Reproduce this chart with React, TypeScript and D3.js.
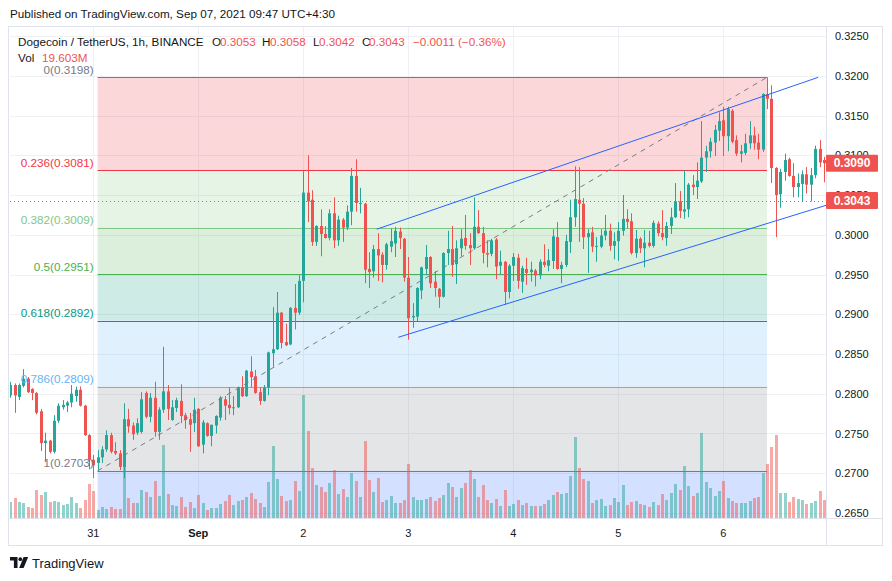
import * as d3 from "d3";

// hourly candles, Aug 30 05:00 -> Sep 6 23:00
const opens = [
  0.2798, 0.2811, 0.2796, 0.2810, 0.2819, 0.2806, 0.2801, 0.2778, 0.2738, 0.2741,
  0.2727, 0.2766, 0.2783, 0.2785, 0.2789, 0.2797, 0.2805, 0.2785, 0.2748, 0.2717,
  0.2713, 0.2720, 0.2730, 0.2748, 0.2728, 0.2725, 0.2708, 0.2768, 0.2760, 0.2751,
  0.2752, 0.2801, 0.2771, 0.2795, 0.2752, 0.2780, 0.2803, 0.2767, 0.2782, 0.2791,
  0.2773, 0.2768, 0.2763, 0.2781, 0.2736, 0.2763, 0.2747, 0.2760, 0.2770, 0.2793,
  0.2786, 0.2782, 0.2783, 0.2808, 0.2797, 0.2828, 0.2822, 0.2802, 0.2791, 0.2808,
  0.2851, 0.2856, 0.2902, 0.2865, 0.2862, 0.2908, 0.2902, 0.2942, 0.3053, 0.3044,
  0.2991, 0.3011, 0.3001, 0.2996, 0.3027, 0.2993, 0.3019, 0.3009, 0.3029, 0.3074,
  0.3039, 0.3039, 0.2957, 0.2954, 0.2982, 0.2975, 0.2962, 0.2985, 0.2989, 0.3004,
  0.2995, 0.2946, 0.2896, 0.2897, 0.2930, 0.2957, 0.2972, 0.2941, 0.2932, 0.2922,
  0.2977, 0.2982, 0.2963, 0.2983, 0.2996, 0.2987, 0.2983, 0.3010, 0.3002, 0.2977,
  0.2976, 0.2994, 0.2961, 0.2966, 0.2928, 0.2961, 0.2971, 0.2941, 0.2957, 0.2953,
  0.2955, 0.2949, 0.2966, 0.2961, 0.2967, 0.2997, 0.2957, 0.2962, 0.2991, 0.3022,
  0.3044, 0.3039, 0.2997, 0.3003, 0.2985, 0.2985, 0.2999, 0.3005, 0.2986, 0.2992,
  0.3005, 0.3020, 0.3017, 0.2977, 0.2995, 0.2983, 0.2990, 0.2986, 0.3014, 0.3002,
  0.2996, 0.3011, 0.3022, 0.3042, 0.3029, 0.3032, 0.3063, 0.3060, 0.3067, 0.3097,
  0.3105, 0.3116, 0.3131, 0.3144, 0.3124, 0.3156, 0.3119, 0.3102, 0.3103, 0.3115,
  0.3125, 0.3116, 0.3107, 0.3177, 0.3171, 0.3084, 0.3051, 0.3079, 0.3095, 0.3074,
  0.3060, 0.3064, 0.3076, 0.3063, 0.3075, 0.3108, 0.3094,
];
const highs = [
  0.2815, 0.2813, 0.2813, 0.2831, 0.2821, 0.2807, 0.2802, 0.2781, 0.2751, 0.2742,
  0.2773, 0.2788, 0.2792, 0.2791, 0.2811, 0.2809, 0.2809, 0.2786, 0.2749, 0.2723,
  0.2729, 0.2734, 0.2754, 0.2751, 0.2739, 0.2729, 0.2788, 0.2781, 0.2764, 0.2769,
  0.2802, 0.2803, 0.2801, 0.2815, 0.2783, 0.2859, 0.2811, 0.2792, 0.2795, 0.2812,
  0.2776, 0.2776, 0.2795, 0.2782, 0.2767, 0.2764, 0.2761, 0.2773, 0.2797, 0.2797,
  0.2808, 0.2797, 0.2809, 0.2822, 0.2830, 0.2847, 0.2830, 0.2808, 0.2811, 0.2853,
  0.2909, 0.2928, 0.2903, 0.2888, 0.2909, 0.2938, 0.2949, 0.3080, 0.3100, 0.3056,
  0.3012, 0.3032, 0.3011, 0.3032, 0.3047, 0.3024, 0.3021, 0.3037, 0.3084, 0.3095,
  0.3059, 0.3040, 0.2978, 0.2987, 0.3002, 0.2978, 0.2990, 0.3008, 0.3010, 0.3009,
  0.2996, 0.2972, 0.2914, 0.2934, 0.2960, 0.2987, 0.2973, 0.2954, 0.2933, 0.2978,
  0.3005, 0.3011, 0.2993, 0.3007, 0.3025, 0.3002, 0.3047, 0.3031, 0.3010, 0.2993,
  0.2995, 0.2996, 0.2980, 0.2967, 0.2963, 0.2977, 0.2976, 0.2961, 0.2971, 0.2966,
  0.2957, 0.2969, 0.2988, 0.2982, 0.3007, 0.3016, 0.2966, 0.3000, 0.3044, 0.3086,
  0.3085, 0.3046, 0.3007, 0.3010, 0.2997, 0.3007, 0.3025, 0.3014, 0.3003, 0.3016,
  0.3050, 0.3032, 0.3027, 0.3006, 0.2997, 0.3006, 0.3005, 0.3018, 0.3017, 0.3031,
  0.3016, 0.3034, 0.3065, 0.3055, 0.3081, 0.3065, 0.3075, 0.3091, 0.3143, 0.3112,
  0.3122, 0.3138, 0.3154, 0.3161, 0.3161, 0.3158, 0.3125, 0.3113, 0.3127, 0.3143,
  0.3136, 0.3127, 0.3178, 0.3198, 0.3188, 0.3085, 0.3083, 0.3102, 0.3097, 0.3090,
  0.3077, 0.3081, 0.3085, 0.3084, 0.3112, 0.3119, 0.3098,
];
const lows = [
  0.2795, 0.2776, 0.2792, 0.2808, 0.2801, 0.2792, 0.2774, 0.2728, 0.2714, 0.2725,
  0.2725, 0.2763, 0.2780, 0.2777, 0.2783, 0.2790, 0.2784, 0.2747, 0.2705, 0.2694,
  0.2704, 0.2713, 0.2727, 0.2725, 0.2723, 0.2704, 0.2694, 0.2751, 0.2742, 0.2748,
  0.2750, 0.2769, 0.2764, 0.2746, 0.2742, 0.2776, 0.2767, 0.2766, 0.2777, 0.2763,
  0.2756, 0.2727, 0.2752, 0.2733, 0.2725, 0.2746, 0.2734, 0.2750, 0.2766, 0.2767,
  0.2774, 0.2773, 0.2782, 0.2796, 0.2796, 0.2808, 0.2800, 0.2786, 0.2790, 0.2798,
  0.2834, 0.2855, 0.2857, 0.2860, 0.2861, 0.2881, 0.2899, 0.2915, 0.3016, 0.2986,
  0.2986, 0.2973, 0.2995, 0.2993, 0.2983, 0.2986, 0.2991, 0.3006, 0.3012, 0.3029,
  0.3027, 0.2939, 0.2933, 0.2946, 0.2942, 0.2940, 0.2956, 0.2978, 0.2972, 0.2982,
  0.2941, 0.2868, 0.2883, 0.2891, 0.2919, 0.2949, 0.2933, 0.2922, 0.2908, 0.2921,
  0.2962, 0.2947, 0.2938, 0.2973, 0.2981, 0.2962, 0.2981, 0.3001, 0.2964, 0.2959,
  0.2973, 0.2944, 0.2950, 0.2912, 0.2920, 0.2942, 0.2932, 0.2927, 0.2937, 0.2941,
  0.2935, 0.2944, 0.2959, 0.2954, 0.2957, 0.2956, 0.2939, 0.2959, 0.2977, 0.3010,
  0.2991, 0.2982, 0.2952, 0.2978, 0.2966, 0.2983, 0.2993, 0.2980, 0.2969, 0.2967,
  0.2999, 0.3008, 0.2975, 0.2971, 0.2977, 0.2959, 0.2984, 0.2984, 0.2998, 0.2993,
  0.2986, 0.3001, 0.3021, 0.3021, 0.3020, 0.3022, 0.3050, 0.3045, 0.3065, 0.3079,
  0.3097, 0.3099, 0.3118, 0.3099, 0.3105, 0.3115, 0.3099, 0.3091, 0.3100, 0.3108,
  0.3107, 0.3095, 0.3104, 0.3158, 0.3065, 0.2997, 0.3034, 0.3068, 0.3073, 0.3047,
  0.3047, 0.3042, 0.3052, 0.3042, 0.3071, 0.3085, 0.3066,
];
const closes = [
  0.2811, 0.2798, 0.2811, 0.2819, 0.2802, 0.2801, 0.2776, 0.2738, 0.2741, 0.2727,
  0.2766, 0.2785, 0.2786, 0.2789, 0.2800, 0.2805, 0.2785, 0.2748, 0.2717, 0.2710,
  0.2720, 0.2730, 0.2748, 0.2727, 0.2725, 0.2708, 0.2768, 0.2759, 0.2749, 0.2763,
  0.2793, 0.2771, 0.2795, 0.2752, 0.2780, 0.2803, 0.2781, 0.2783, 0.2792, 0.2772,
  0.2767, 0.2761, 0.2780, 0.2734, 0.2764, 0.2747, 0.2761, 0.2772, 0.2795, 0.2785,
  0.2782, 0.2783, 0.2808, 0.2797, 0.2829, 0.2821, 0.2801, 0.2791, 0.2808, 0.2852,
  0.2856, 0.2902, 0.2864, 0.2861, 0.2908, 0.2902, 0.2942, 0.3053, 0.3042, 0.2991,
  0.3011, 0.3001, 0.2996, 0.3027, 0.2993, 0.3019, 0.3009, 0.3029, 0.3074, 0.3040,
  0.3040, 0.2956, 0.2953, 0.2982, 0.2974, 0.2962, 0.2988, 0.2992, 0.3005, 0.2996,
  0.2946, 0.2895, 0.2898, 0.2933, 0.2959, 0.2972, 0.2939, 0.2933, 0.2922, 0.2977,
  0.2982, 0.2962, 0.2983, 0.2995, 0.2986, 0.2983, 0.3010, 0.3002, 0.2977, 0.2975,
  0.2993, 0.2960, 0.2966, 0.2928, 0.2961, 0.2972, 0.2942, 0.2958, 0.2952, 0.2956,
  0.2949, 0.2966, 0.2962, 0.2968, 0.2998, 0.2957, 0.2962, 0.2992, 0.3022, 0.3045,
  0.3039, 0.2997, 0.3002, 0.2985, 0.2986, 0.2999, 0.3005, 0.2986, 0.2992, 0.3005,
  0.3020, 0.3016, 0.2977, 0.2995, 0.2983, 0.2990, 0.2986, 0.3015, 0.3002, 0.2997,
  0.3011, 0.3022, 0.3042, 0.3030, 0.3032, 0.3063, 0.3060, 0.3068, 0.3097, 0.3105,
  0.3117, 0.3132, 0.3143, 0.3124, 0.3158, 0.3117, 0.3102, 0.3105, 0.3115, 0.3125,
  0.3115, 0.3107, 0.3177, 0.3171, 0.3084, 0.3050, 0.3079, 0.3094, 0.3074, 0.3060,
  0.3065, 0.3076, 0.3063, 0.3075, 0.3108, 0.3091, 0.3090,
];
// volume, millions
const volumes = [
  16, 20, 16, 15, 11, 10, 28, 23, 26, 16, 17, 16, 13, 14, 21, 15, 10, 18, 34, 27,
  8, 11, 9, 11, 9, 9, 73, 20, 15, 15, 28, 26, 21, 37, 22, 73, 24, 13, 12, 21,
  11, 16, 10, 23, 15, 8, 10, 10, 14, 17, 23, 13, 17, 18, 21, 25, 19, 15, 11, 36,
  72, 39, 22, 17, 18, 37, 27, 123, 87, 50, 33, 31, 26, 35, 48, 24, 29, 21, 45, 37,
  21, 77, 38, 26, 40, 16, 18, 22, 15, 15, 18, 54, 21, 18, 18, 19, 21, 17, 20, 23,
  35, 31, 21, 30, 35, 48, 39, 21, 33, 18, 15, 19, 12, 28, 12, 14, 18, 13, 15, 12,
  12, 12, 14, 18, 23, 26, 24, 25, 42, 81, 50, 39, 37, 15, 18, 19, 12, 13, 20, 16,
  33, 13, 16, 17, 14, 13, 11, 16, 13, 24, 18, 25, 34, 28, 52, 32, 22, 25, 85, 36,
  30, 22, 27, 37, 20, 17, 15, 15, 15, 17, 20, 21, 45, 54, 71, 83, 25, 25, 16, 21,
  19, 18, 14, 15, 17, 27, 18,
];

const priceTicks = [0.265, 0.27, 0.275, 0.28, 0.285, 0.29, 0.295, 0.3, 0.305, 0.31, 0.315, 0.32, 0.325];
const dayTicks = [
  { i: 19, label: "31", bold: false },
  { i: 43, label: "Sep", bold: true },
  { i: 67, label: "2", bold: false },
  { i: 91, label: "3", bold: false },
  { i: 115, label: "4", bold: false },
  { i: 139, label: "5", bold: false },
  { i: 163, label: "6", bold: false },
];

// fib retracement drawn from candle 20 (low) to candle 173 (high)
const fibAnchors = [
  { i: 20, p: 0.2703 },
  { i: 173, p: 0.3198 },
];
const fibLevels = [0, 0.236, 0.382, 0.5, 0.618, 0.786, 1];
const fibLineColors = ["#787b86", "#f23645", "#81c784", "#4caf50", "#089981", "#64b5f6", "#787b86"];
const fibFillColors = [
  "rgba(242,54,69,0.2)",
  "rgba(129,199,132,0.2)",
  "rgba(76,175,80,0.2)",
  "rgba(8,153,129,0.2)",
  "rgba(100,181,246,0.2)",
  "rgba(120,123,134,0.2)",
  "rgba(41,98,255,0.2)",
];

// hand drawn trend lines
const upperLine = [
  { i: 83.8, p: 0.3007 },
  { i: 184.7, p: 0.3198 },
];
const lowerLine = [
  { i: 88.7, p: 0.2871 },
  { i: 186.5, p: 0.3037 },
];

const lastPrice = 0.309;
const priceLine = 0.3043;

const UP = "#26a69a";
const DOWN = "#ef5350";
const FONT = "'Liberation Sans', Arial, sans-serif";
const TXT = "#131722";

export default function App() {
  const pane = { left: 10, right: 826, top: 26, bottom: 518 };

  const x = d3.scaleLinear().domain([0, 186]).range([10.125, 823.875]);
  const y = d3.scaleLinear().domain([0.265, 0.325]).range([513, 36]);
  const v = d3.scaleLinear().domain([0, 100]).range([518, 418]);

  const fibHigh = fibAnchors[1].p;
  const fibLow = fibAnchors[0].p;
  const fibPrice = (l: number) => fibHigh - l * (fibHigh - fibLow);
  const fx1 = x(fibAnchors[0].i);
  const fx2 = x(fibAnchors[1].i);

  const fmt = d3.format(".4f");
  const fmtFib = (p: number) => fmt(p + 1e-9);

  const line = d3
    .line<{ i: number; p: number }>()
    .x(d => x(d.i))
    .y(d => y(d.p));

  return (
    <svg
      width={892}
      height={581}
      style={{ position: "absolute", left: 0, top: 0, background: "#fff" }}
    >
      <defs>
        <clipPath id="pane">
          <rect x={pane.left} y={pane.top} width={pane.right - pane.left} height={pane.bottom - pane.top} />
        </clipPath>
      </defs>

      {/* header */}
      <text x={10} y={18} fontSize={11.7} fill={TXT} fontFamily={FONT}>
        Published on TradingView.com, Sep 07, 2021 09:47 UTC+4:30
      </text>

      {/* grid */}
      <g clipPath="url(#pane)">
        {priceTicks.map(t => (
          <line key={t} x1={pane.left} x2={pane.right} y1={Math.round(y(t)) + 0.5} y2={Math.round(y(t)) + 0.5} stroke="#eef0f4" />
        ))}
        {dayTicks.map(d => (
          <line key={d.label} x1={Math.round(x(d.i)) + 0.5} x2={Math.round(x(d.i)) + 0.5} y1={pane.top} y2={pane.bottom} stroke="#eef0f4" />
        ))}
      </g>

      {/* fib retracement */}
      <g clipPath="url(#pane)">
        {fibLevels.map((l, k) => {
          const top = y(fibPrice(l));
          const bot = k < fibLevels.length - 1 ? y(fibPrice(fibLevels[k + 1])) : pane.bottom;
          return <rect key={l} x={fx1} y={top} width={fx2 - fx1} height={bot - top} fill={fibFillColors[k]} />;
        })}
        {fibLevels.map((l, k) => (
          <line
            key={l}
            x1={fx1}
            x2={fx2}
            y1={Math.round(y(fibPrice(l))) + 0.5}
            y2={Math.round(y(fibPrice(l))) + 0.5}
            stroke={fibLineColors[k]}
            strokeWidth={1}
          />
        ))}
      </g>

      {/* volume */}
      <g clipPath="url(#pane)">
        {volumes.map((vol, i) => {
          const up = closes[i] >= opens[i];
          const top = v(vol);
          return (
            <rect
              key={i}
              x={Math.round(x(i)) - 1}
              y={top}
              width={3}
              height={pane.bottom - top}
              fill={up ? UP : DOWN}
              opacity={0.5}
            />
          );
        })}
      </g>

      {/* candles */}
      <g clipPath="url(#pane)">
        {opens.map((o, i) => {
          const c = closes[i];
          const up = c >= o;
          const col = up ? UP : DOWN;
          const cx = Math.round(x(i));
          const yTop = y(Math.max(o, c));
          const yBot = y(Math.min(o, c));
          return (
            <g key={i}>
              <line x1={cx + 0.5} x2={cx + 0.5} y1={y(highs[i])} y2={y(lows[i])} stroke={col} strokeWidth={1} />
              <rect x={cx - 1} y={yTop} width={3} height={Math.max(1, yBot - yTop)} fill={col} />
            </g>
          );
        })}
      </g>

      {/* drawings */}
      <g clipPath="url(#pane)">
        <line
          x1={fx1}
          y1={y(fibLow)}
          x2={fx2}
          y2={y(fibHigh)}
          stroke="#787b86"
          strokeWidth={1}
          strokeDasharray="5 5"
        />
        <path d={line(upperLine) ?? ""} stroke="#2962ff" strokeWidth={1} fill="none" />
        <path d={line(lowerLine) ?? ""} stroke="#2962ff" strokeWidth={1} fill="none" />
        <line
          x1={pane.left}
          x2={pane.right}
          y1={Math.round(y(priceLine)) + 0.5}
          y2={Math.round(y(priceLine)) + 0.5}
          stroke={DOWN}
          strokeDasharray="1 3"
        />
      </g>

      {/* fib labels */}
      {fibLevels.map((l, k) => (
        <text
          key={l}
          x={fx1 - 4}
          y={y(fibPrice(l)) - 3.5}
          textAnchor="end"
          fontSize={11.7}
          fill={fibLineColors[k]}
          fontFamily={FONT}
        >
          {`${l}(${fmtFib(fibPrice(l))})`}
        </text>
      ))}

      {/* legend */}
      <g fontFamily={FONT} fontSize={11.7}>
        <text x={18} y={46} fill={TXT}>Dogecoin / TetherUS, 1h, BINANCE</text>
        <text x={212} y={46} fill={TXT}>O</text>
        <text x={220} y={46} fill={DOWN}>0.3053</text>
        <text x={262} y={46} fill={TXT}>H</text>
        <text x={270} y={46} fill={DOWN}>0.3058</text>
        <text x={313} y={46} fill={TXT}>L</text>
        <text x={319} y={46} fill={DOWN}>0.3042</text>
        <text x={362} y={46} fill={TXT}>C</text>
        <text x={369} y={46} fill={DOWN}>0.3043</text>
        <text x={413} y={46} fill={DOWN}>−0.0011 (−0.36%)</text>
        <text x={18} y={62} fill={TXT}>Vol</text>
        <text x={42} y={62} fill={DOWN}>19.603M</text>
      </g>

      {/* frame */}
      <rect x={8.5} y={26.5} width={874} height={519} fill="none" stroke="#e0e3eb" />
      <line x1={pane.right + 0.5} x2={pane.right + 0.5} y1={26} y2={546} stroke="#e0e3eb" />
      <line x1={8} x2={883} y1={pane.bottom + 0.5} y2={pane.bottom + 0.5} stroke="#e0e3eb" />

      {/* price axis */}
      {priceTicks.map(t => (
        <text
          key={t}
          x={835}
          y={y(t)}
          dominantBaseline="central"
          fontSize={11}
          fill={TXT}
          fontFamily={FONT}
        >
          {fmt(t)}
        </text>
      ))}
      {[lastPrice, priceLine].map(p => (
        <g key={p}>
          <rect x={826} y={y(p) - 8.5} width={52} height={17} fill={DOWN} rx={1} />
          <text
            x={852}
            y={y(p)}
            textAnchor="middle"
            dominantBaseline="central"
            fontSize={12}
            fontWeight="bold"
            fill="#fff"
            fontFamily={FONT}
          >
            {fmt(p)}
          </text>
        </g>
      ))}

      {/* time axis */}
      {dayTicks.map(d => (
        <text
          key={d.label}
          x={x(d.i)}
          y={537}
          textAnchor="middle"
          fontSize={11}
          fontWeight={d.bold ? "bold" : "normal"}
          fill={TXT}
          fontFamily={FONT}
        >
          {d.label}
        </text>
      ))}

      {/* footer logo */}
      <g fill={TXT}>
        <path d="M10 557h7.5v11h-3.6v-7.6H10z" />
        <circle cx={20.3} cy={559.2} r={1.9} />
        <path d="M23.6 557h4.6l-4.6 11h-4.4z" />
      </g>
      <text x={32} y={568} fontSize={13} fill={TXT} fontFamily={FONT}>
        TradingView
      </text>
    </svg>
  );
}
